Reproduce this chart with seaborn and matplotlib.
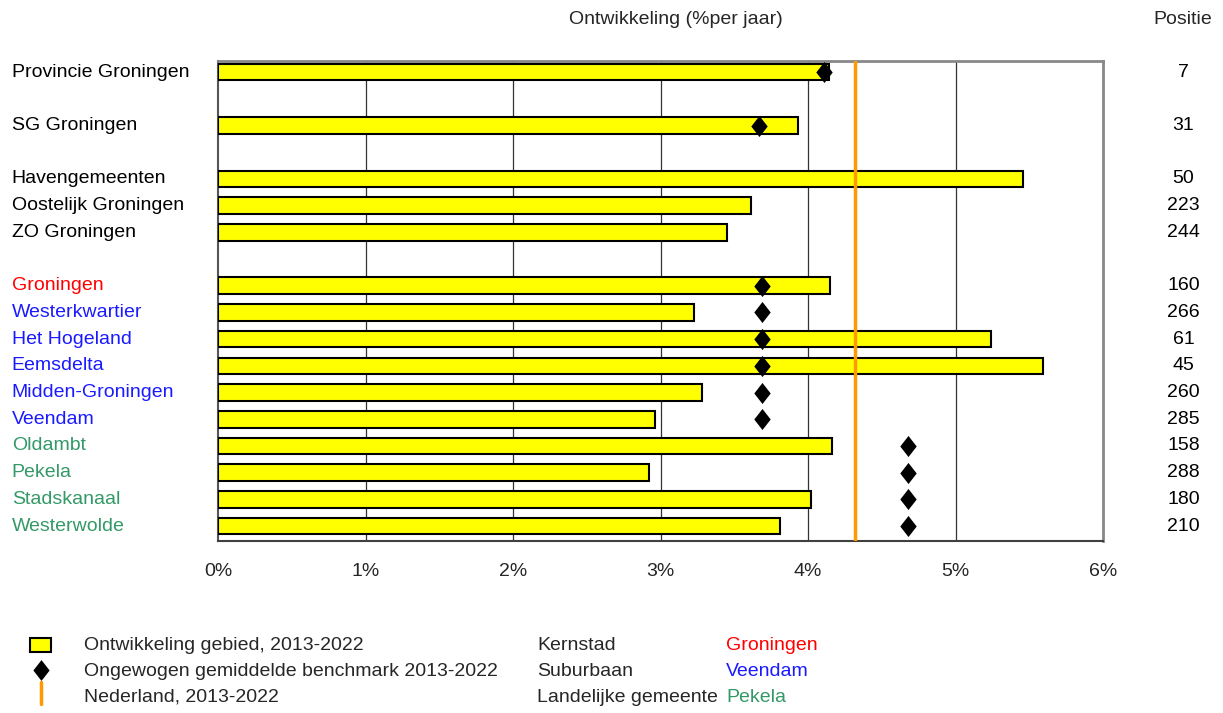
import numpy as np
import pandas as pd
import seaborn as sns
import matplotlib.pyplot as plt
from matplotlib.lines import Line2D
from matplotlib.patches import Rectangle

# %%
gebieden = [
    "Provincie Groningen", "SG Groningen", "Havengemeenten", "Oostelijk Groningen",
    "ZO Groningen", "Groningen", "Westerkwartier", "Het Hogeland", "Eemsdelta",
    "Midden-Groningen", "Veendam", "Oldambt", "Pekela", "Stadskanaal", "Westerwolde",
]
sectie = ["provincie", "sg", "regio", "regio", "regio"] + ["gemeente"] * 10
typering = ["", "", "", "", "", "Kernstad"] + ["Suburbaan"] * 5 + ["Landelijke gemeente"] * 4
ontwikkeling = [4.14, 3.93, 5.46, 3.61, 3.45, 4.15, 3.23, 5.24, 5.59, 3.28, 2.96, 4.16, 2.92, 4.02, 3.81]
benchmark = [4.11, 3.67, np.nan, np.nan, np.nan, 3.69, 3.69, 3.69, 3.69, 3.69, 3.69, 4.68, 4.68, 4.68, 4.68]
positie = [7, 31, 50, 223, 244, 160, 266, 61, 45, 260, 285, 158, 288, 180, 210]
nederland = 4.32
x_ticks = [0, 1, 2, 3, 4, 5, 6]

kleuren = {"": "black", "Kernstad": "#ff0000", "Suburbaan": "#1a1aff", "Landelijke gemeente": "#339966"}
voorbeeld = {"Kernstad": "Groningen", "Suburbaan": "Veendam", "Landelijke gemeente": "Pekela"}

# row positions: empty row between sections
rij = []
r = 0
for i, s in enumerate(sectie):
    if i > 0 and s != sectie[i - 1]:
        r += 1
    rij.append(r)
    r += 1

df = pd.DataFrame({"gebied": gebieden, "rij": rij, "ontw": ontwikkeling,
                   "bench": benchmark, "type": typering, "positie": positie})

# slightly narrow diamond, like the excel marker
ruit = [(0, 1), (0.78, 0), (0, -1), (-0.78, 0), (0, 1)]

# %%
sns.set_style("white")
plt.rcParams["font.family"] = ["Liberation Sans", "DejaVu Sans"]
fs = 14

fig = plt.figure(figsize=(12.23, 7.13), dpi=100)
ax = fig.add_axes([0.1783, 0.2412, 0.7236, 0.6733])

sns.barplot(data=df, x="ontw", y="rij", orient="h", native_scale=True,
            color="#ffff00", edgecolor="black", linewidth=1.5, width=0.62,
            saturation=1, ax=ax, zorder=3)
sns.scatterplot(data=df.dropna(subset=["bench"]), x="bench", y="rij", marker=ruit,
                s=230, color="black", edgecolor="black", linewidth=0, ax=ax, zorder=5,
                legend=False)
ax.axvline(nederland, color="#ff9900", linewidth=2.5, zorder=4)

ax.set_xlim(0, 6)
ax.set_ylim(max(rij) + 0.56, -0.42)
ax.set_xticks(x_ticks)
ax.set_xticklabels([f"{t}%" for t in x_ticks], fontsize=fs)
ax.tick_params(axis="x", direction="out", length=5, width=1.2, color="#404040", pad=11)
ax.set_yticks([])
ax.set_xlabel("")
ax.set_ylabel("")
for x in x_ticks[1:-1]:
    ax.axvline(x, color="#333333", linewidth=0.9, zorder=1)

for side in ["top", "right"]:
    ax.spines[side].set_color("#888888")
    ax.spines[side].set_linewidth(2)
ax.spines["left"].set_color("#555555")
ax.spines["left"].set_linewidth(1.5)
ax.spines["bottom"].set_color("#404040")
ax.spines["bottom"].set_linewidth(1.5)

# labels left and positions right
trans = ax.get_yaxis_transform()
for _, row in df.iterrows():
    ax.text(-0.233, row["rij"], row["gebied"], transform=trans,
            ha="left", va="center", fontsize=fs, color=kleuren[row["type"]])
    ax.text(1.091, row["rij"], str(row["positie"]), transform=trans,
            ha="center", va="center", fontsize=fs, color="black")

fig.text(0.553, 0.972, "Ontwikkeling (%per jaar)", ha="center", va="center", fontsize=fs)
fig.text(0.967, 0.972, "Positie", ha="center", va="center", fontsize=fs)

# legend
W, H = 1223, 713
def fx(px):
    return px / W
def fy(py):
    return 1 - py / H

fig.patches.append(Rectangle((fx(30), fy(652)), fx(21), 14 / H, transform=fig.transFigure,
                             facecolor="#ffff00", edgecolor="black", linewidth=1.5))
fig.lines.append(Line2D([fx(41)], [fy(670)], transform=fig.transFigure, marker=ruit,
                        markersize=15, markeredgewidth=0, color="black", linestyle="none"))
fig.lines.append(Line2D([fx(41), fx(41)], [fy(682), fy(704)], transform=fig.transFigure,
                        color="#ff9900", linewidth=2.5))
leg_rows = [645, 671, 697]
leg_text = ["Ontwikkeling gebied, 2013-2022", "Ongewogen gemiddelde benchmark 2013-2022",
            "Nederland, 2013-2022"]
for y, t in zip(leg_rows, leg_text):
    fig.text(fx(84), fy(y), t, ha="left", va="center", fontsize=fs)
for y, t in zip(leg_rows, voorbeeld):
    fig.text(fx(537), fy(y), t, ha="left", va="center", fontsize=fs)
    fig.text(fx(726), fy(y), voorbeeld[t], ha="left", va="center", fontsize=fs, color=kleuren[t])

plt.savefig("out.png", dpi=100)
